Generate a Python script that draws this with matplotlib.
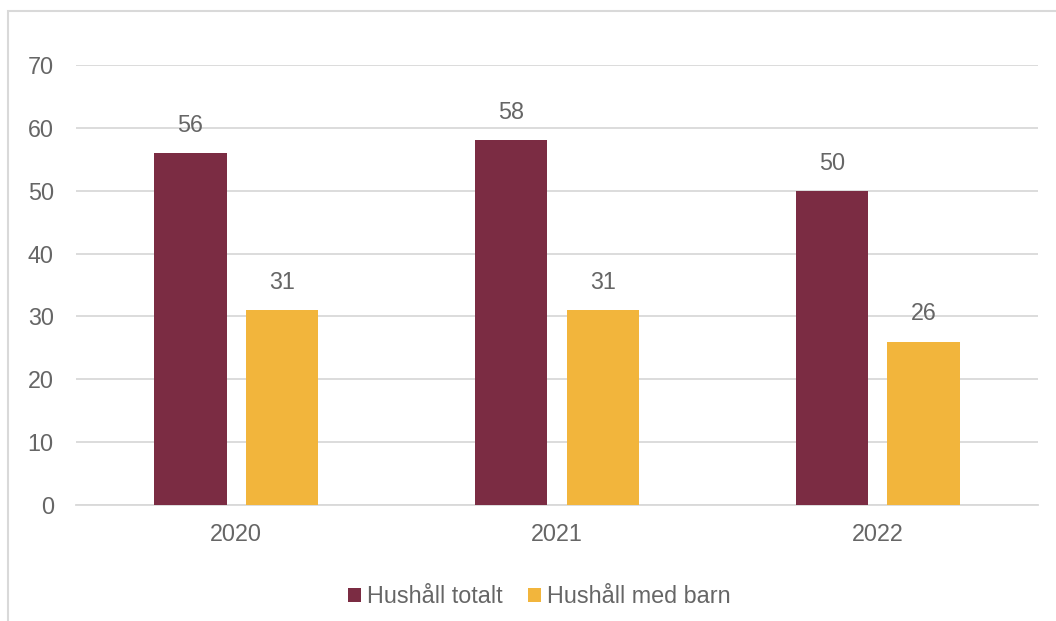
import numpy as np
import matplotlib.pyplot as plt
from matplotlib.patches import Rectangle

plt.rcParams['font.family'] = ['Liberation Sans', 'DejaVu Sans']

# Data
years = ['2020', '2021', '2022']
hushall_totalt = [56, 58, 50]
hushall_med_barn = [31, 31, 26]
series_names = ['Hushåll totalt', 'Hushåll med barn']
colors = ['#7B2C43', '#F2B53C']
text_color = '#666666'
grid_color = '#D9D9D9'
fs = 16.8

fig = plt.figure(figsize=(10.56, 6.21), dpi=100)
ax = fig.add_axes([0.072, 0.1868, 0.911, 0.7085])

x = np.arange(len(years))
width = 0.225
offset = 0.143

bars1 = ax.bar(x - offset, hushall_totalt, width, color=colors[0], label=series_names[0], zorder=3)
bars2 = ax.bar(x + offset, hushall_med_barn, width, color=colors[1], label=series_names[1], zorder=3)

for bars in (bars1, bars2):
    for b in bars:
        ax.text(b.get_x() + b.get_width() / 2, b.get_height() + 4.4, f'{b.get_height():.0f}',
                ha='center', va='center', fontsize=fs, color=text_color)

ax.set_xlim(-0.5, len(years) - 0.5)
ax.set_ylim(0, 70)
ax.set_yticks(range(0, 71, 10))
ax.set_xticks(x)
ax.set_xticklabels(years)
ax.tick_params(axis='both', length=0, labelsize=fs, labelcolor=text_color)
ax.tick_params(axis='y', pad=16)
ax.tick_params(axis='x', pad=13)

ax.grid(axis='y', color=grid_color, linewidth=1.3, zorder=0)
for side in ['top', 'right', 'left']:
    ax.spines[side].set_visible(False)
ax.spines['bottom'].set_color(grid_color)
ax.spines['bottom'].set_linewidth(1.3)

leg = fig.legend(loc='center', bbox_to_anchor=(0.511, 0.039), ncol=2, frameon=False,
                 fontsize=fs, handlelength=0.55, handleheight=0.55, handletextpad=0.25,
                 columnspacing=1.1)
for t in leg.get_texts():
    t.set_color(text_color)

# outer chart border
fig.patches.append(Rectangle((8 / 1056, -0.05), 1.2, 1 - 11 / 621 + 0.05, transform=fig.transFigure,
                             fill=False, edgecolor='#D9D9D9', linewidth=1.5))

fig.savefig('out.png', dpi=100)
